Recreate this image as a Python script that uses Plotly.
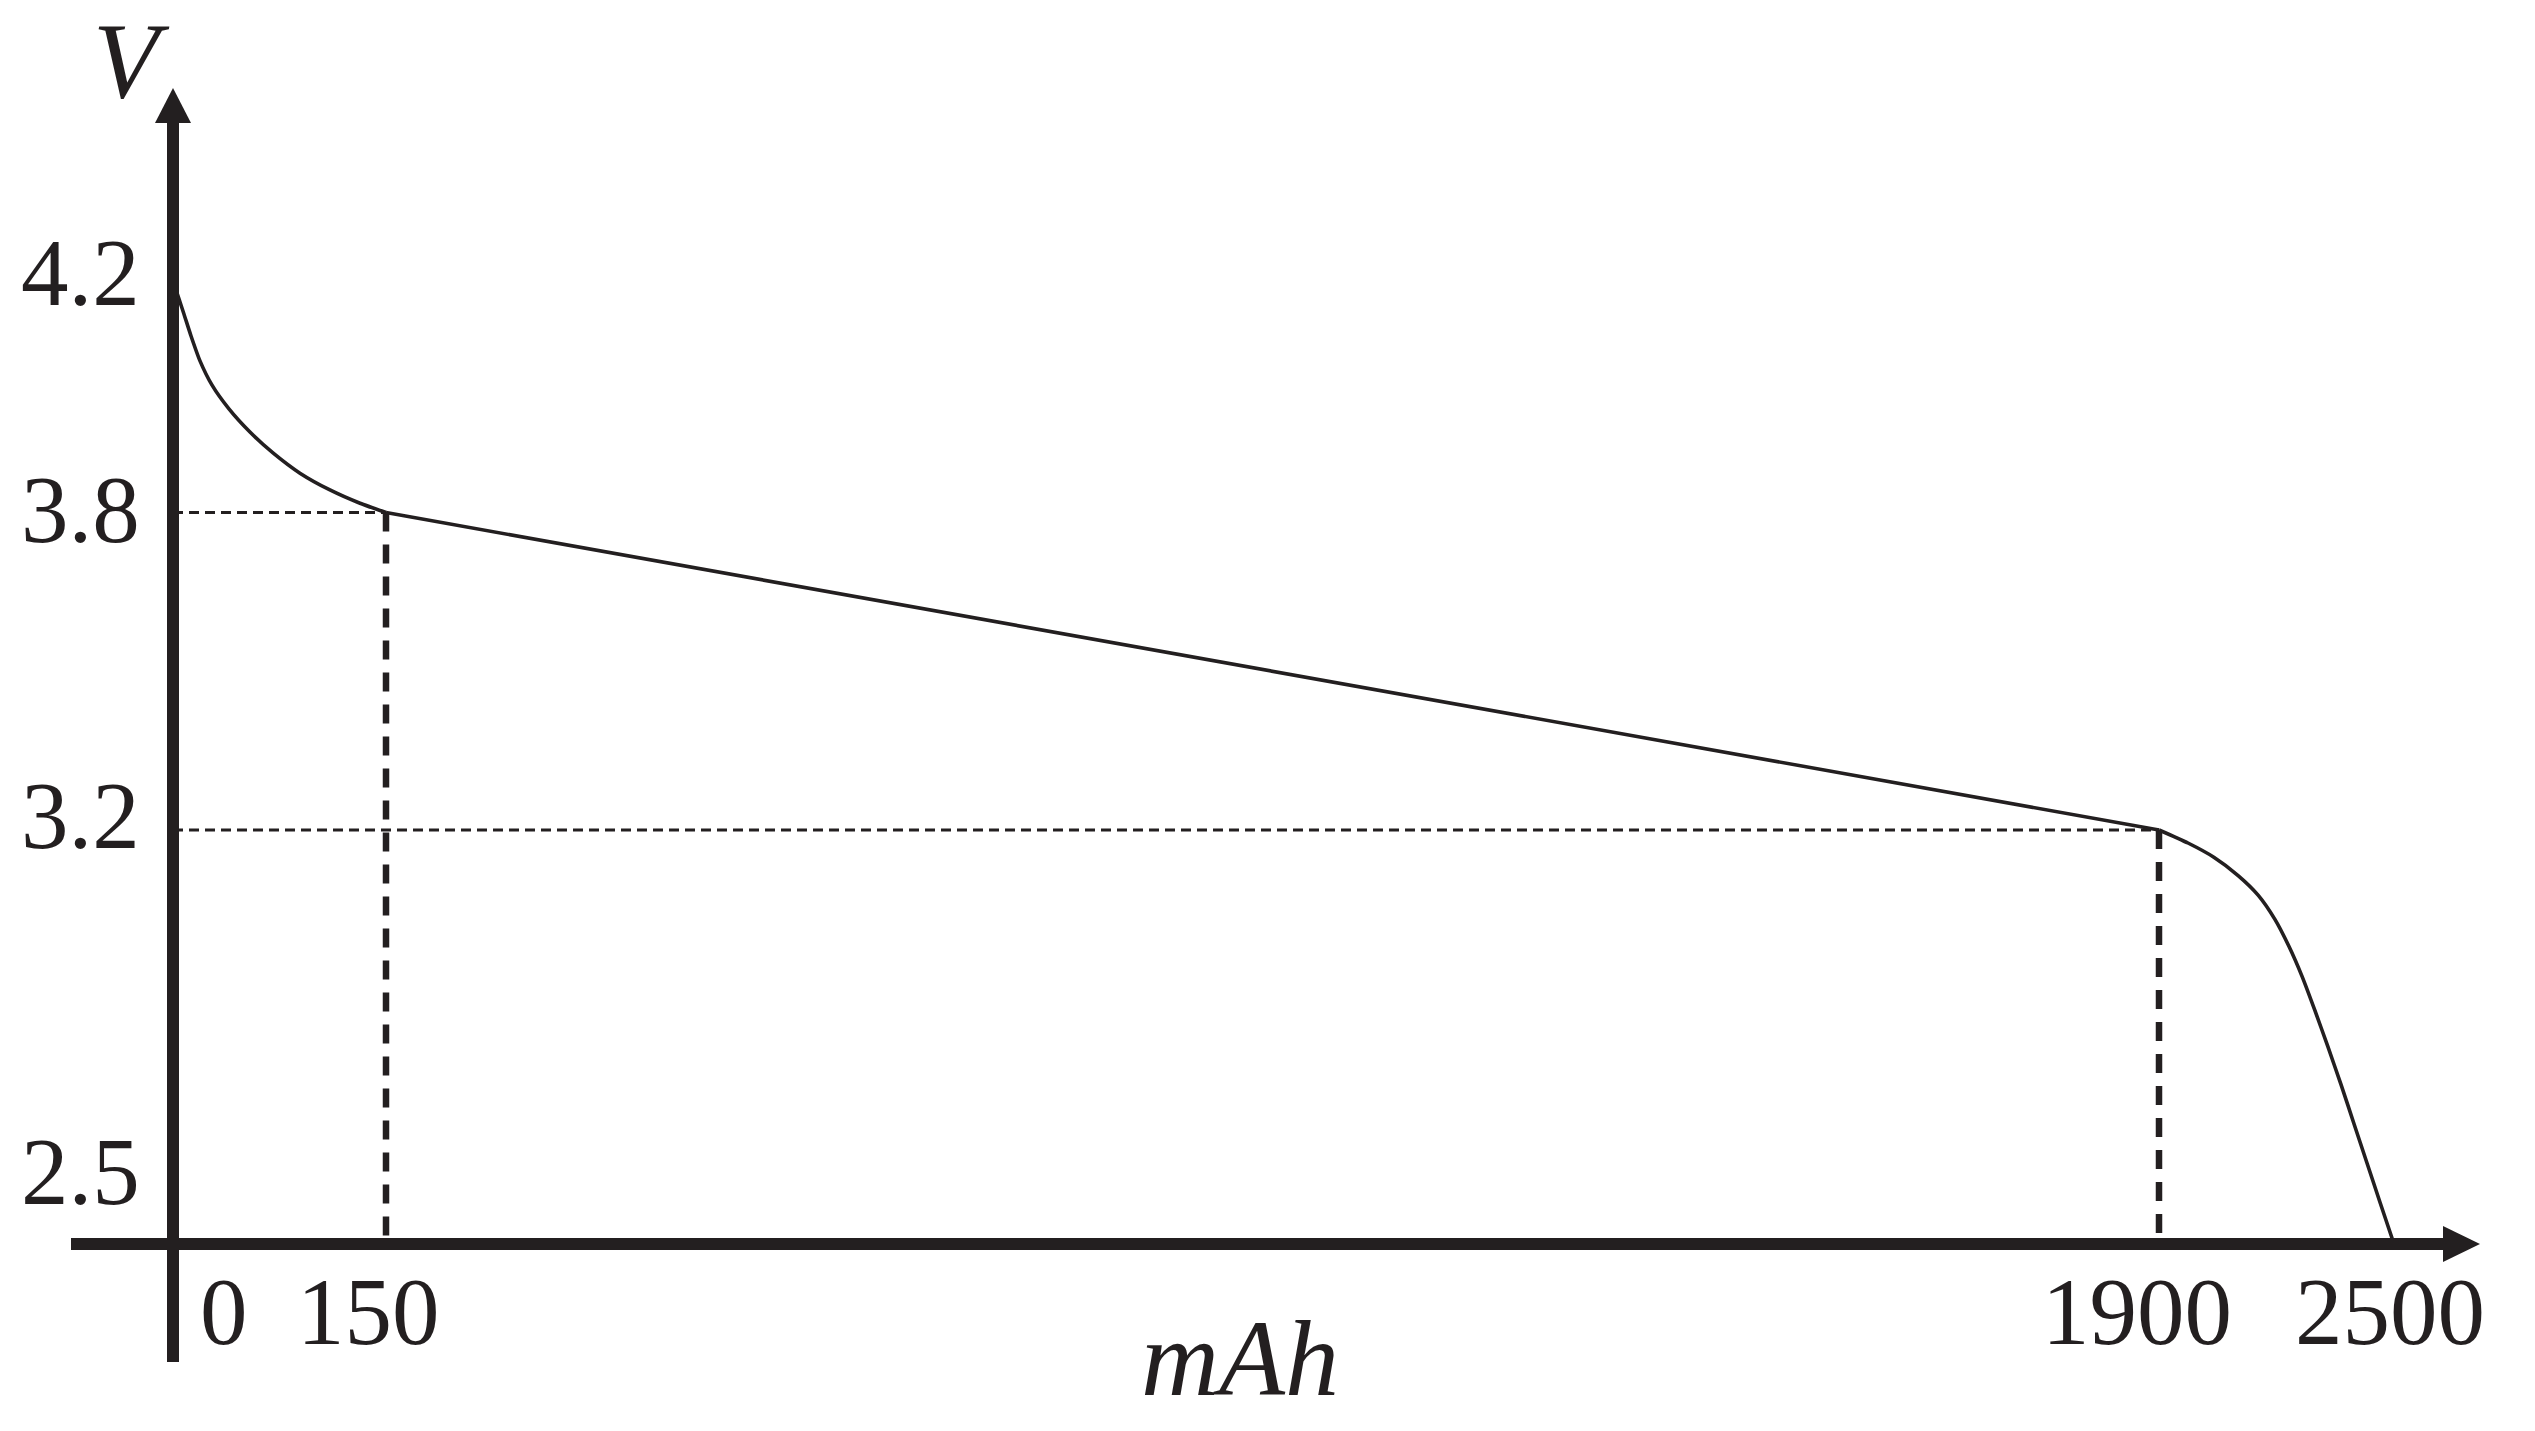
import numpy as np
import plotly.graph_objects as go

# ---------------- data ----------------
X_TICKS = [0, 150, 1900, 2500]            # mAh
X_TICK_LABELS = ["0", "150", "1900", "2500"]
Y_TICKS = [2.5, 3.2, 3.8, 4.2]            # V
Y_TICK_LABELS = ["2.5", "3.2", "3.8", "4.2"]

# initial drop (0 -> 150 mAh)
DROP_MAH = [0, 4.2, 7.7, 12.7, 19.0, 27.5, 39.4, 54.2, 70.4, 89.4, 110.5, 131.7, 150]
DROP_V = [4.2, 4.169, 4.143, 4.105, 4.062, 4.020, 3.979, 3.939, 3.903, 3.868,
          3.839, 3.816, 3.8]
# plateau (150 -> 1900 mAh)
PLATEAU_MAH = [150, 1900]
PLATEAU_V = [3.8, 3.2]
# end-of-discharge knee (1900 -> 2500 mAh)
KNEE_MAH = [1900, 1974, 2040, 2102, 2153, 2196, 2232, 2265, 2298,
            2331, 2365, 2398, 2431, 2464, 2500]
KNEE_V = [3.2, 3.178, 3.154, 3.123, 3.090, 3.049, 3.003, 2.953, 2.895,
          2.834, 2.769, 2.703, 2.637, 2.571, 2.5]

# guide points
GUIDE_MAH = [150, 1900]
GUIDE_V = [3.8, 3.2]

# ---------------- schematic (broken) axis scales ----------------
W, H = 2535, 1431
X_BREAKS = [173, 386, 2159, 2394]     # where each x tick sits along the axis
Y_BREAKS = [1244, 830, 512.5, 281]    # where each y tick sits along the axis


def sx(v):
    return np.interp(np.asarray(v, dtype=float), X_TICKS, X_BREAKS)


def sy(v):
    return np.interp(np.asarray(v, dtype=float), Y_TICKS, Y_BREAKS)


INK = "#231f20"
FONT = "Liberation Serif"
FS = 95
FS_VAR = 108

fig = go.Figure()

# dashed guides
for m, v in zip(GUIDE_MAH, GUIDE_V):
    fig.add_trace(go.Scatter(x=sx([X_TICKS[0], m]), y=sy([v, v]), mode="lines",
                             line=dict(color=INK, width=3.2, dash="10px,6px"),
                             hoverinfo="skip", showlegend=False))
    fig.add_trace(go.Scatter(x=sx([m, m]), y=sy([v, Y_TICKS[0]]), mode="lines",
                             line=dict(color=INK, width=6.5, dash="19px,13px"),
                             hoverinfo="skip", showlegend=False))

# discharge curve, drawn in three pieces so the straight plateau stays straight
for xs, ys, shape in [(DROP_MAH, DROP_V, "spline"),
                      (PLATEAU_MAH, PLATEAU_V, "linear"),
                      (KNEE_MAH, KNEE_V, "spline")]:
    fig.add_trace(go.Scatter(x=sx(xs), y=sy(ys), mode="lines",
                             line=dict(color=INK, width=3.6, shape=shape, smoothing=0.6),
                             hoverinfo="skip", showlegend=False))

# axes (thick lines with arrowheads)
ox, oy = float(sx(0)), float(sy(Y_TICKS[0]))
shapes = [
    dict(type="line", x0=71, x1=2445, y0=oy, y1=oy, line=dict(color=INK, width=12)),
    dict(type="line", x0=ox, x1=ox, y0=1362, y1=120, line=dict(color=INK, width=12)),
    dict(type="path", path=f"M 2480 {oy} L 2443 {oy-18} L 2443 {oy+18} Z",
         fillcolor=INK, line=dict(width=0)),
    dict(type="path", path=f"M {ox} 88 L {ox-18} 123 L {ox+18} 123 Z",
         fillcolor=INK, line=dict(width=0)),
]
for s in shapes:
    s.update(xref="x", yref="y", layer="above")
fig.update_layout(shapes=shapes)

ann = []
x_shift = [51, -18, -22, -4]
for t, lab, dx in zip(X_TICKS, X_TICK_LABELS, x_shift):
    ann.append(dict(x=float(sx(t)), y=oy, text=lab, xshift=dx, yshift=-68,
                    xanchor="center", yanchor="middle",
                    font=dict(family=FONT, size=FS, color=INK)))
y_shift = [72, 14, 2.5, 8]
for t, lab, dy in zip(Y_TICKS, Y_TICK_LABELS, y_shift):
    ann.append(dict(x=ox, y=float(sy(t)), text=lab, xshift=-31, yshift=dy,
                    xanchor="right", yanchor="middle",
                    font=dict(family=FONT, size=FS, color=INK)))
ann.append(dict(x=131, y=60, text="<i>V</i>", xanchor="center", yanchor="middle",
                font=dict(family=FONT, size=FS_VAR, color=INK)))
ann.append(dict(x=1240, y=1358, text="<i>mAh</i>", xanchor="center", yanchor="middle",
                font=dict(family=FONT, size=FS_VAR, color=INK)))
for a in ann:
    a.update(xref="x", yref="y", showarrow=False)
fig.update_layout(annotations=ann)

fig.update_layout(
    width=W, height=H,
    margin=dict(l=0, r=0, t=0, b=0),
    paper_bgcolor="white", plot_bgcolor="white",
    xaxis=dict(range=[0, W], visible=False, fixedrange=True),
    yaxis=dict(range=[H, 0], visible=False, fixedrange=True),
    showlegend=False,
)

fig.write_html("out.html", config={"displayModeBar": False},
               post_script="document.body.style.margin='0';"
                           "document.body.style.overflow='hidden';")
